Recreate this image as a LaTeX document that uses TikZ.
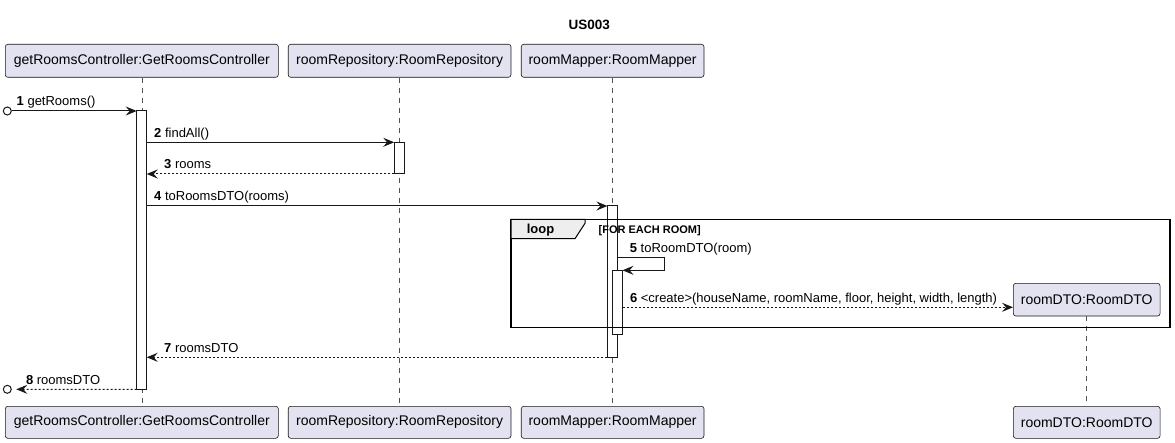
\documentclass[tikz,border=0pt]{standalone}
\usepackage{fontspec}
\setmainfont{Liberation Sans}
\usetikzlibrary{arrows.meta,calc}
\definecolor{partfill}{HTML}{E2E2F0}
\definecolor{ink}{HTML}{181818}
\definecolor{tabfill}{HTML}{EEEEEE}
\begin{document}
\begin{tikzpicture}[x=1pt,y=-1pt,
  part/.style={draw=ink, fill=partfill, line width=0.6pt, rounded corners=2.5pt, minimum height=33pt, inner sep=0pt, font=\fontsize{14}{16}\selectfont},
  life/.style={draw=ink!75, line width=0.6pt, dash pattern=on 5pt off 5pt},
  act/.style={draw=ink, fill=white, line width=1pt, minimum width=10pt, inner sep=0pt, outer sep=0pt, anchor=north},
  msg/.style={draw=ink, line width=1pt, -{Stealth[length=11pt,width=9pt,inset=4pt]}},
  ret/.style={msg, dash pattern=on 2pt off 2pt},
  lbl/.style={font=\fontsize{13}{15}\selectfont, anchor=base west, inner sep=0pt, yshift=5pt},
  endpt/.style={circle, draw=ink, fill=white, line width=1pt, minimum size=8pt, inner sep=0pt}
]
\useasboundingbox (0,0) rectangle (1175,443);
\fill[white] (0,0) rectangle (1175,443);

\node[font=\bfseries\fontsize{13.5}{16}\selectfont] (title) at (589.3,25) {US003};

% participants
\node[part, minimum width=273pt] (p1) at (141.8,60.8) {getRoomsController:GetRoomsController};
\node[part, minimum width=222.7pt] (p2) at (399.6,60.8) {roomRepository:RoomRepository};
\node[part, minimum width=182.7pt] (p3) at (612.6,60.8) {roomMapper:RoomMapper};
\node[part, minimum width=273pt, minimum height=32pt] (p1b) at (141.8,422.3) {getRoomsController:GetRoomsController};
\node[part, minimum width=222.7pt, minimum height=32pt] (p2b) at (399.6,422.3) {roomRepository:RoomRepository};
\node[part, minimum width=182.7pt, minimum height=32pt] (p3b) at (612.6,422.3) {roomMapper:RoomMapper};
\node[part, minimum width=146.7pt, minimum height=32pt] (db) at (1086.7,422.3) {roomDTO:RoomDTO};

% lifelines
\draw[life] (p1.south) -- (p1b.north);
\draw[life] (p2.south) -- (p2b.north);
\draw[life] (p3.south) -- (p3b.north);

% created participant
\node[part, minimum width=146.7pt, minimum height=32.7pt] (d) at (1086.7,299.7) {roomDTO:RoomDTO};
\draw[life] (d.south) -- (db.north);

% activations
\node[act, minimum height=278.3pt] (a1) at (141.7,111) {};
\node[act, minimum height=31.7pt] (a2) at (399.2,142.3) {};
\node[act, minimum height=151.3pt] (a3) at (612.4,206) {};
\node[act, minimum height=64pt] (a4) at (617.5,270.3) {};

% loop frame (drawn over the activations, no fill)
\node[draw=black, line width=1.5pt, minimum width=659pt, minimum height=108pt, anchor=north west, inner sep=0pt, outer sep=0pt] (loopfr) at (511,219.5) {};
\draw[fill=tabfill, draw=black, line width=1pt] (loopfr.north west) -- (585,219.5) -- (585,223.3) -- (575,238.7) -- (loopfr.north west |- 0,238.7) -- cycle;
\node[font=\bfseries\fontsize{13}{15}\selectfont, anchor=base] (looplbl) at (540.5,233.8) {loop};
\node[font=\bfseries\fontsize{11}{13}\selectfont, anchor=base west, inner sep=0pt] (guard) at (598.5,234) {[FOR EACH ROOM]};

% end points
\node[endpt] (c1) at (7.3,111) {};
\node[endpt] (c8) at (7.3,389.3) {};

% messages
\draw[msg] (c1) -- node[lbl, pos=0, xshift=4.4pt] {\textbf{1} getRooms()} (a1.north west);
\draw[msg] (a1.east |- a2.north) -- node[lbl, pos=0, xshift=7pt] {\textbf{2} findAll()} (a2.north west);
\draw[ret] (a2.south west) -- node[lbl, pos=1, xshift=17pt] {\textbf{3} rooms} (a1.east |- a2.south);
\draw[msg] (a1.east |- a3.north) -- node[lbl, pos=0, xshift=7pt] {\textbf{4} toRoomsDTO(rooms)} (a3.north west);
\draw[msg] (a3.east |- 0,257.3) -- node[lbl, pos=0, xshift=12pt] {\textbf{5} toRoomDTO(room)} ++(47,0) -- ++(0,13) -- (a4.north east);
\draw[ret] (a4.east |- 0,307.3) -- node[lbl, pos=0, xshift=7pt] {\textbf{6} <create>(houseName, roomName, floor, height, width, length)} (d.west |- 0,307.3);
\draw[ret] (a3.south west) -- node[lbl, pos=1, xshift=17pt] {\textbf{7} roomsDTO} (a1.east |- a3.south);
\draw[ret, shorten >=4.5pt] (a1.south west) -- node[lbl, pos=1, xshift=13.7pt] {\textbf{8} roomsDTO} (c8);
\end{tikzpicture}
\end{document}
